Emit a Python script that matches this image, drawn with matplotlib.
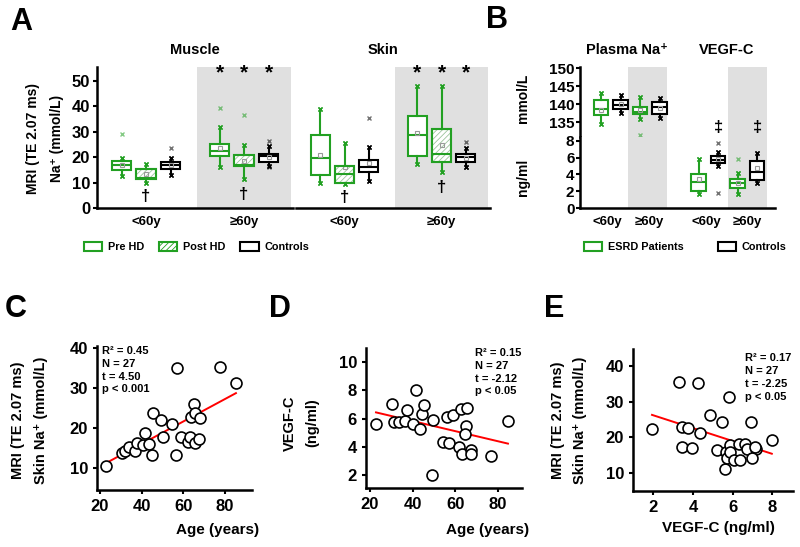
import numpy as np
import matplotlib
matplotlib.use('Agg')
import matplotlib.pyplot as plt
from matplotlib.patches import Patch, PathPatch

plt.rcParams['font.family'] = ['Liberation Sans', 'DejaVu Sans']
plt.rcParams['font.weight'] = 'bold'
plt.rcParams['hatch.linewidth'] = 0.6

GREEN = '#22a022'
HATCH = '#9cc49c'
GRAY = '#e0e0e0'

# ---- Panel A: box stats, order = Pre<60, Post<60, Ctrl<60, Pre>=60, Post>=60, Ctrl>=60
muscle_q1 = [15.0, 11.3, 15.5, 20.6, 16.4, 18.3]
muscle_med = [16.8, 12.0, 16.8, 22.3, 17.0, 20.3]
muscle_q3 = [18.5, 15.3, 18.1, 25.1, 20.9, 21.3]
muscle_lo = [12.7, 9.8, 13.0, 16.2, 11.5, 16.5]
muscle_hi = [19.8, 17.3, 19.5, 31.8, 24.8, 24.5]
muscle_mean = [17.0, 13.5, 16.9, 23.5, 18.5, 20.0]
muscle_out = [[29.1], [], [23.6], [39.3], [36.6], [26.5, 16.0]]

skin_q1 = [13.0, 10.0, 14.3, 20.6, 18.0, 18.2]
skin_med = [19.6, 13.4, 16.3, 28.7, 21.1, 20.0]
skin_q3 = [28.7, 16.5, 18.9, 36.3, 31.0, 21.3]
skin_lo = [9.7, 9.6, 10.6, 17.2, 14.0, 16.3]
skin_hi = [38.8, 25.7, 24.1, 48.0, 48.0, 23.5]
skin_mean = [20.9, 16.0, 17.8, 29.4, 24.8, 19.8]
skin_out = [[], [], [35.3], [], [], [26.0, 16.0]]

# ---- Panel B: order = ESRD<60, Ctrl<60, ESRD>=60, Ctrl>=60
plasma_q1 = [137.1, 138.6, 137.4, 137.4]
plasma_med = [138.8, 139.9, 138.0, 139.3]
plasma_q3 = [141.1, 141.1, 139.3, 140.5]
plasma_lo = [134.6, 137.5, 136.0, 136.3]
plasma_hi = [143.1, 142.5, 142.0, 141.6]
plasma_mean = [138.5, 140.0, 138.3, 139.0]
plasma_out = [[], [], [131.6], []]

vegf_q1 = [2.04, 5.35, 2.43, 3.27]
vegf_med = [3.15, 5.67, 2.96, 4.27]
vegf_q3 = [4.07, 6.15, 3.47, 5.55]
vegf_lo = [1.68, 5.03, 1.64, 3.03]
vegf_hi = [5.83, 6.63, 4.15, 6.55]
vegf_mean = [3.4, 5.8, 3.0, 4.7]
vegf_out = [[], [7.75, 1.76], [5.83], []]

# ---- Panels C-E: scatter data
age_c = [23.1, 30.6, 32.2, 33.8, 36.6, 37.7, 40.8, 41.7, 43.6, 44.8, 45.6, 49.4, 50.0, 54.7,
         56.6, 57.0, 58.9, 62.3, 63.1, 63.6, 65.2, 65.5, 65.5, 67.5, 67.8, 77.5, 85.2]
skin_na_c = [10.7, 13.9, 14.4, 15.4, 14.4, 16.4, 15.8, 18.8, 16.1, 13.3, 23.8, 22.0, 17.7, 21.0,
             13.3, 35.0, 17.7, 16.6, 17.7, 22.9, 26.1, 23.9, 16.4, 17.2, 22.6, 35.3, 31.4]

age_d = [22.8, 30.2, 31.3, 33.6, 36.4, 37.3, 40.3, 41.4, 43.3, 44.5, 45.5, 49.2, 49.7, 54.2,
         56.9, 56.1, 58.9, 61.9, 62.8, 63.1, 65.5, 65.0, 64.8, 67.3, 67.3, 76.9, 84.8]
vegf_d = [5.65, 7.04, 5.76, 5.76, 5.81, 6.64, 5.65, 8.02, 5.29, 6.35, 6.99, 2.0, 5.93, 4.35,
          4.28, 6.12, 6.28, 3.98, 6.68, 3.51, 6.73, 5.51, 4.92, 3.76, 3.53, 3.34, 5.86]

vegf_e = [1.93, 3.29, 3.46, 3.46, 3.73, 3.95, 4.35, 4.24, 4.87, 5.23, 5.46, 5.61, 5.68, 5.73,
          5.80, 5.87, 5.88, 6.08, 6.30, 6.35, 6.64, 6.72, 7.18, 6.94, 6.99, 7.98, 7.13]
skin_na_e = [22.4, 35.5, 23.0, 17.4, 22.7, 16.9, 21.3, 35.3, 26.3, 16.4, 24.4, 11.2, 15.8, 14.3,
             31.5, 17.8, 15.9, 13.6, 18.0, 13.6, 18.1, 16.7, 16.7, 24.2, 14.3, 19.2, 17.4]

W, H = 800, 547
fig = plt.figure(figsize=(8, 5.47), dpi=100)


def add_ax(x0, y0, x1, y1):
    # pixel box (top-left origin) -> figure axes
    return fig.add_axes([x0 / W, 1 - y1 / H, (x1 - x0) / W, (y1 - y0) / H])


def draw_boxes(ax, pos, q1, med, q3, lo, hi, mean, out, colors, hatched, width):
    for i in range(len(pos)):
        c = colors[i]
        st = dict(q1=q1[i], med=med[i], q3=q3[i], whislo=lo[i], whishi=hi[i],
                  mean=mean[i], fliers=out[i])
        res = ax.bxp([st], positions=[pos[i]], widths=width, patch_artist=True,
                     showmeans=True, capwidths=0, manage_ticks=False,
                     boxprops=dict(facecolor='white', edgecolor=c, linewidth=1.5),
                     medianprops=dict(color=c, linewidth=1.5),
                     whiskerprops=dict(color=c, linewidth=1.5),
                     capprops=dict(color=c, marker='x', markersize=3, markeredgewidth=1),
                     meanprops=dict(marker='s', markerfacecolor='none', markeredgecolor='#999999',
                                    markersize=3.5, markeredgewidth=0.8),
                     flierprops=dict(marker='x', markeredgecolor=c, markersize=3.5, alpha=0.55))
        if hatched[i]:
            b = res['boxes'][0]
            b.set_hatch('//////')
            b.set_edgecolor(HATCH)
            ax.add_patch(PathPatch(b.get_path(), facecolor='none', edgecolor=c, lw=1.5, zorder=b.get_zorder() + 0.1))


def style_axis(ax, lw=1.8):
    for s in ['top', 'right']:
        ax.spines[s].set_visible(False)
    for s in ['left', 'bottom']:
        ax.spines[s].set_linewidth(lw)
    ax.tick_params(width=1.5, length=3, labelsize=11)


# ================= Panel A =================
a_pos = [1, 2, 3, 5, 6, 7]
a_colors = [GREEN, GREEN, 'black', GREEN, GREEN, 'black']
a_hatch = [False, True, False, False, True, False]

ax_m = add_ax(97, 67, 293, 208)
ax_s = add_ax(296, 67, 490, 208)
for ax in (ax_m, ax_s):
    style_axis(ax)
    ax.set_xlim(0, 8)
    ax.set_ylim(0, 55.5)
    ax.axvspan(4.1, 7.9, color=GRAY, zorder=0, lw=0)
    ax.set_xticks([2, 6])
    ax.set_xticklabels(['<60y', '≥60y'], fontsize=9.5)
    ax.tick_params(axis='x', length=0, pad=6)
ax_m.set_yticks([0, 10, 20, 30, 40, 50])
ax_m.tick_params(axis='y', labelsize=12, pad=2)
ax_s.spines['left'].set_visible(False)
ax_s.set_yticks([])

draw_boxes(ax_m, a_pos, muscle_q1, muscle_med, muscle_q3, muscle_lo, muscle_hi, muscle_mean,
           muscle_out, a_colors, a_hatch, 0.78)
draw_boxes(ax_s, a_pos, skin_q1, skin_med, skin_q3, skin_lo, skin_hi, skin_mean,
           skin_out, a_colors, a_hatch, 0.78)

for ax in (ax_m, ax_s):
    for p in [5, 6, 7]:
        ax.text(p, 53.3, '*', ha='center', va='center', fontsize=15)
ax_m.text(2, 4.5, '†', ha='center', va='center', fontsize=12)
ax_m.text(6, 5.5, '†', ha='center', va='center', fontsize=12)
ax_s.text(2, 4.3, '†', ha='center', va='center', fontsize=12)
ax_s.text(6, 8.2, '†', ha='center', va='center', fontsize=12)

fig.text(195 / W, 1 - 50 / H, 'Muscle', ha='center', va='center', fontsize=10.5)
fig.text(383 / W, 1 - 50 / H, 'Skin', ha='center', va='center', fontsize=10.5)
fig.text(33 / W, 1 - 138 / H, 'MRI (TE 2.07 ms)', rotation=90, ha='center', va='center', fontsize=10)
fig.text(57 / W, 1 - 138 / H, 'Na⁺ (mmol/L)', rotation=90, ha='center', va='center', fontsize=10)

a_handles = [Patch(facecolor='white', edgecolor=GREEN, lw=1.5),
             Patch(facecolor='white', edgecolor=GREEN, lw=1.5, hatch='//////'),
             Patch(facecolor='white', edgecolor='black', lw=1.5)]
fig.legend(a_handles, ['Pre HD', 'Post HD', 'Controls'], loc='center left',
           bbox_to_anchor=(74 / W, 1 - 247 / H), ncol=3, frameon=False, fontsize=7.8,
           handlelength=1.7, handleheight=0.9, handletextpad=0.5, columnspacing=1.4)

# ================= Panel B =================
b_colors = [GREEN, 'black', GREEN, 'black']
b_hatch = [False] * 4
ax_bu = add_ax(580, 67, 775, 136.5)
ax_bl = add_ax(580, 136.5, 775, 208)
for ax in (ax_bu, ax_bl):
    style_axis(ax)
    ax.set_xlim(-0.08, 9.92)
    ax.axvspan(2.4, 4.4, color=GRAY, zorder=0, lw=0)
    ax.axvspan(7.5, 9.5, color=GRAY, zorder=0, lw=0)
    ax.tick_params(axis='y', labelsize=11, pad=1)
ax_bu.set_ylim(131.1, 150.3)
ax_bu.set_yticks([135, 140, 145, 150])
ax_bu.spines['bottom'].set_visible(False)
ax_bu.set_xticks([])
ax_bl.set_ylim(0, 8.5)
ax_bl.set_yticks([0, 2, 4, 6, 8])
ax_bl.set_xticks([1.3, 3.5, 6.4, 8.5])
ax_bl.set_xticklabels(['<60y', '≥60y', '<60y', '≥60y'], fontsize=9.5)
ax_bl.tick_params(axis='x', length=0, pad=6)

draw_boxes(ax_bu, [1, 2, 3, 4], plasma_q1, plasma_med, plasma_q3, plasma_lo, plasma_hi,
           plasma_mean, plasma_out, b_colors, b_hatch, 0.75)
draw_boxes(ax_bl, [6, 7, 8, 9], vegf_q1, vegf_med, vegf_q3, vegf_lo, vegf_hi,
           vegf_mean, vegf_out, b_colors, b_hatch, 0.75)
for p in [7, 9]:
    ax_bl.text(p, 9.6, '‡', ha='center', va='center', fontsize=12, clip_on=False)

fig.text(627 / W, 1 - 50 / H, 'Plasma Na⁺', ha='center', va='center', fontsize=10.5)
fig.text(727 / W, 1 - 50 / H, 'VEGF-C', ha='center', va='center', fontsize=10.5)
fig.text(523 / W, 1 - 98 / H, 'mmol/L', rotation=90, ha='center', va='center', fontsize=10)
fig.text(523 / W, 1 - 177 / H, 'ng/ml', rotation=90, ha='center', va='center', fontsize=10)

b_handles = [Patch(facecolor='white', edgecolor=GREEN, lw=1.5),
             Patch(facecolor='white', edgecolor='black', lw=1.5)]
fig.legend(b_handles, ['ESRD Patients', 'Controls'], loc='center left',
           bbox_to_anchor=(574 / W, 1 - 247 / H), ncol=2, frameon=False, fontsize=7.8,
           handlelength=1.7, handleheight=0.9, handletextpad=0.5, columnspacing=3.2)


# ================= Panels C-E =================
def scatter_panel(ax, x, y, xlim, ylim, xticks, yticks):
    style_axis(ax)
    ax.scatter(x, y, s=62, facecolors='white', edgecolors='black', linewidths=1.2, zorder=3,
               clip_on=False)
    slope, icpt = np.polyfit(x, y, 1)
    xs = np.array([min(x), max(x)])
    ax.plot(xs, slope * xs + icpt, color='red', lw=1.4, zorder=2)
    ax.set_xlim(*xlim)
    ax.set_ylim(*ylim)
    ax.set_xticks(xticks)
    ax.set_yticks(yticks)
    ax.tick_params(labelsize=12)


ax_c = add_ax(97, 346, 252, 490)
scatter_panel(ax_c, age_c, skin_na_c, (18.6, 92.9), (4.6, 40.5), [20, 40, 60, 80], [10, 20, 30, 40])
ax_c.text(0.03, 1.0, 'R² = 0.45\nN = 27\nt = 4.50\np < 0.001', transform=ax_c.transAxes,
          ha='left', va='top', fontsize=8, linespacing=1.35)

ax_d = add_ax(366, 348, 522, 488)
scatter_panel(ax_d, age_d, vegf_d, (18.1, 91.4), (1.1, 11.0), [20, 40, 60, 80], [2, 4, 6, 8, 10])
ax_d.text(0.7, 1.0, 'R² = 0.15\nN = 27\nt = -2.12\np < 0.05', transform=ax_d.transAxes,
          ha='left', va='top', fontsize=8, linespacing=1.35)

ax_e = add_ax(633, 349, 793, 491)
scatter_panel(ax_e, vegf_e, skin_na_e, (0.97, 9.05), (4.9, 44.9), [2, 4, 6, 8], [10, 20, 30, 40])
ax_e.text(0.7, 0.97, 'R² = 0.17\nN = 27\nt = -2.25\np < 0.05', transform=ax_e.transAxes,
          ha='left', va='top', fontsize=8, linespacing=1.35)

fig.text(218 / W, 1 - 530 / H, 'Age (years)', ha='center', va='center', fontsize=11)
fig.text(488 / W, 1 - 530 / H, 'Age (years)', ha='center', va='center', fontsize=11)
fig.text(718 / W, 1 - 528 / H, 'VEGF-C (ng/ml)', ha='center', va='center', fontsize=11)

fig.text(18 / W, 1 - 420 / H, 'MRI (TE 2.07 ms)', rotation=90, ha='center', va='center', fontsize=10.5)
fig.text(41 / W, 1 - 420 / H, 'Skin Na⁺ (mmol/L)', rotation=90, ha='center', va='center', fontsize=10.5)
fig.text(290 / W, 1 - 423 / H, 'VEGF-C', rotation=90, ha='center', va='center', fontsize=10.5)
fig.text(312 / W, 1 - 423 / H, '(ng/ml)', rotation=90, ha='center', va='center', fontsize=10.5)
fig.text(558 / W, 1 - 420 / H, 'MRI (TE 2.07 ms)', rotation=90, ha='center', va='center', fontsize=10.5)
fig.text(580 / W, 1 - 420 / H, 'Skin Na⁺ (mmol/L)', rotation=90, ha='center', va='center', fontsize=10.5)

# panel letters
for lbl, x, y in [('A', 21, 22), ('B', 497, 20), ('C', 16, 309), ('D', 280, 309), ('E', 554, 309)]:
    fig.text(x / W, 1 - y / H, lbl, ha='center', va='center', fontsize=22)

fig.savefig('out.png', dpi=100)
